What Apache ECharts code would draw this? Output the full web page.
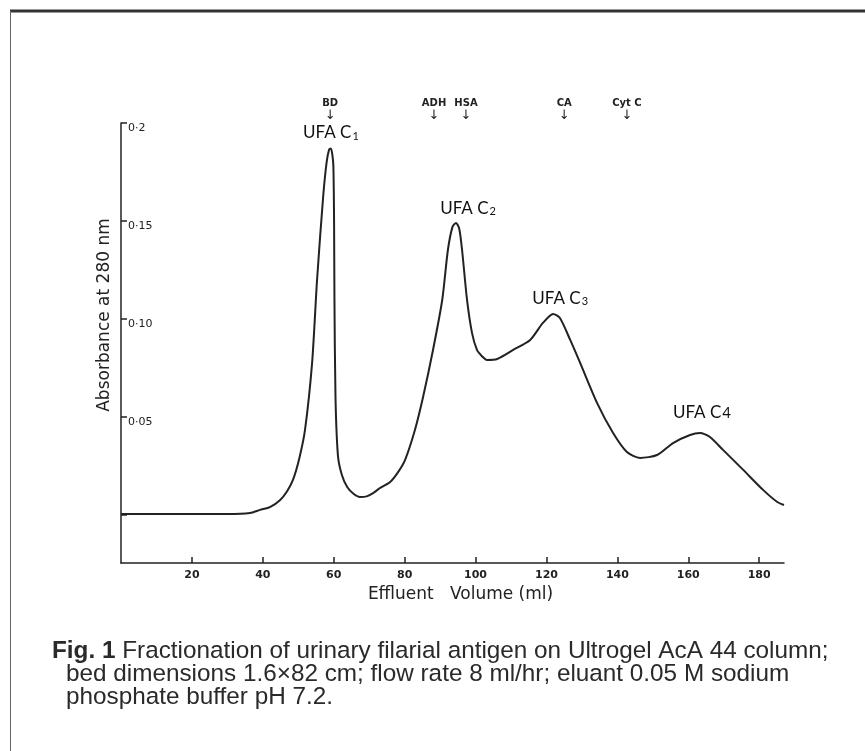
<!DOCTYPE html>
<html><head><meta charset="utf-8">
<script src="https://cdn.jsdelivr.net/npm/echarts@6/dist/echarts.min.js"></script>
<style>html,body{margin:0;padding:0;background:#fff}#c{width:865px;height:751px}</style>
</head><body><div id="c"></div>
<script>
// Effluent volume (ml) and absorbance at 280 nm
const volume = [0,10,20,30,36.4,39.2,42,44.9,46.8,48.5,50.3,51.9,53.9,55.3,57.0,58.0,58.7,59.2,59.6,59.9,60.1,60.2,60.5,61.2,62.3,63.8,65.5,67.4,69.3,71.1,73.1,75.9,78.2,80.1,82.9,85.2,88.0,90.6,92.2,93.5,94.5,95.4,96.2,97.6,99.0,100.4,101.8,103.2,106.1,110.6,115.4,119.0,121.9,123.8,126.7,129.5,134.3,138.8,142.7,146.4,151.2,155.7,160.5,163.3,166.1,169.8,175.5,181.1,185.1,187.0];
const absorbance = [0.0005,0.0005,0.0005,0.0005,0.001,0.0026,0.004,0.0077,0.012,0.0179,0.029,0.0434,0.0776,0.120,0.162,0.180,0.1865,0.187,0.184,0.178,0.150,0.111,0.060,0.030,0.0204,0.0143,0.011,0.0092,0.0095,0.0112,0.0138,0.0168,0.022,0.028,0.0434,0.0602,0.0842,0.1097,0.1352,0.147,0.149,0.146,0.1352,0.1097,0.0929,0.0842,0.081,0.0791,0.0796,0.0842,0.0893,0.098,0.1026,0.1005,0.0893,0.0776,0.0571,0.0418,0.0321,0.0291,0.0306,0.0367,0.0408,0.0418,0.0398,0.0332,0.0230,0.0128,0.0066,0.0051];

const xTickValues = [20,40,60,80,100,120,140,160,180];
const xTickLabels = ['20','40','60','80','100','120','140','160','180'];
const yTickValues = [0.05,0.10,0.15,0.20];
const yTickLabels = ['0·05','0·10','0·15','0·2'];
const yTickMarks = [0,0.05,0.10,0.15,0.20];

const markerNames = ['BD','ADH','HSA','CA','Cyt C'];
const markerVolumes = [59.0,88.3,97.3,125.0,142.7];

const peakNames = ['UFA C','UFA C','UFA C','UFA C'];
const peakSubs = ['1','2','3','4'];
const peakVolumes = [59.2,94.5,121.9,163.3];
const peakAbsorbance = [0.187,0.149,0.1026,0.0418];

const captionLines = [
  ['Fig. 1', ' Fractionation of urinary filarial antigen on Ultrogel AcA 44 column;'],
  ['', 'bed dimensions 1.6\u00d782 cm; flow rate 8 ml/hr; eluant 0.05 M sodium'],
  ['', 'phosphate buffer pH 7.2.']
];

const ink = '#222';
const chart = echarts.init(document.getElementById('c'), null, {renderer: 'canvas'});

const peakLabelStyle = [
  {offset: [0, -1], sub: 'sub'},
  {offset: [12, 0], sub: 'sub'},
  {offset: [7, -1], sub: 'sub'},
  {offset: [2, -6], sub: 'big'}
];

const option = {
  backgroundColor: '#fff',
  animation: false,
  grid: {left: 121, right: 81, top: 123, bottom: 188, containLabel: false, outerBoundsMode: 'none'},
  xAxis: [{
    type: 'value', min: 0, max: 187,
    axisLine: {show: true, onZero: false, lineStyle: {color: ink, width: 1.5}},
    axisTick: {show: true, inside: true, length: 6, customValues: xTickValues, lineStyle: {color: ink, width: 1.5}},
    axisLabel: {show: true, customValues: xTickValues, margin: 7, color: ink, fontSize: 11, fontWeight: 'bold', fontFamily: 'DejaVu Sans',
      formatter: v => xTickLabels[xTickValues.indexOf(v)] ?? ''},
    splitLine: {show: false},
    name: 'Effluent   Volume (ml)', nameLocation: 'middle', nameGap: 19,
    nameTextStyle: {color: ink, fontSize: 17, fontFamily: 'DejaVu Sans', padding: [0, 0, 0, 16]}
  }, {
    type: 'value', min: 0, max: 187, position: 'top',
    axisLine: {show: false}, axisTick: {show: false}, splitLine: {show: false},
    axisLabel: {show: true, customValues: markerVolumes, margin: 1, color: ink,
      formatter: v => '{n|' + markerNames[markerVolumes.indexOf(v)] + '}\n{a|\u2193}',
      rich: {n: {fontSize: 10, fontFamily: 'DejaVu Sans', fontWeight: 'bold', color: ink, lineHeight: 13},
             a: {fontSize: 13, fontFamily: 'DejaVu Sans', color: ink, lineHeight: 12}}}
  }],
  yAxis: {
    type: 'value', min: -0.0245, max: 0.2,
    axisLine: {show: true, onZero: false, lineStyle: {color: ink, width: 1.5}},
    axisTick: {show: true, inside: true, length: 6, customValues: yTickMarks, lineStyle: {color: ink, width: 1.5}},
    axisLabel: {show: true, inside: true, customValues: yTickValues, margin: 7, color: ink, fontSize: 11, fontFamily: 'DejaVu Sans',
      verticalAlign: 'top', formatter: v => yTickLabels[yTickValues.findIndex(t => Math.abs(t - v) < 1e-6)] ?? ''},
    splitLine: {show: false},
    name: 'Absorbance at 280 nm', nameLocation: 'middle', nameGap: 2, nameRotate: 90,
    nameTextStyle: {color: ink, fontSize: 17, fontFamily: 'DejaVu Sans', padding: [16, 0, 0, 56]}
  },
  series: [{
    type: 'line', xAxisIndex: 0, yAxisIndex: 0,
    data: volume.map((v, i) => [v, absorbance[i]]),
    showSymbol: false, smooth: 0.25,
    lineStyle: {color: ink, width: 2}, clip: false
  }, {
    type: 'scatter', xAxisIndex: 0, yAxisIndex: 0, symbolSize: 0, silent: true,
    itemStyle: {opacity: 1, color: ink},
    data: peakVolumes.map((v, i) => ({
      value: [v, peakAbsorbance[i]],
      label: {show: true, position: 'top', distance: 6, offset: peakLabelStyle[i].offset, color: ink, opacity: 1,
        formatter: '{m|' + peakNames[i] + '}{' + peakLabelStyle[i].sub + '|' + peakSubs[i] + '}'}
    })),
    label: {color: ink, rich: {
      m: {fontSize: 17, fontFamily: 'Lato', color: '#111'},
      sub: {fontSize: 11, fontFamily: 'Lato', color: '#111', padding: [6, 0, 0, 1]},
      big: {fontSize: 15, fontFamily: 'Lato', color: '#111', padding: [2, 0, 0, 1]}
    }}
  }],
  graphic: [
    {type: 'line', shape: {x1: 10, y1: 11, x2: 865, y2: 11}, style: {stroke: '#333', lineWidth: 3}},
    {type: 'line', shape: {x1: 10.5, y1: 11, x2: 10.5, y2: 751}, style: {stroke: '#666', lineWidth: 1}},
    ...captionLines.map((ln, i) => ({
      type: 'text', left: i === 0 ? 52 : 66, top: 639 + i * 23,
      style: {text: (ln[0] ? '{b|' + ln[0] + '}' : '') + '{r|' + ln[1] + '}',
        rich: {b: {fontSize: 24.3, fontWeight: 'bold', fontFamily: 'Liberation Sans', fill: '#2a2a2a', lineHeight: 23},
               r: {fontSize: 24.3, fontFamily: 'Liberation Sans', fill: '#2a2a2a', lineHeight: 23}}}
    }))
  ]
};
chart.setOption(option);
</script></body></html>
